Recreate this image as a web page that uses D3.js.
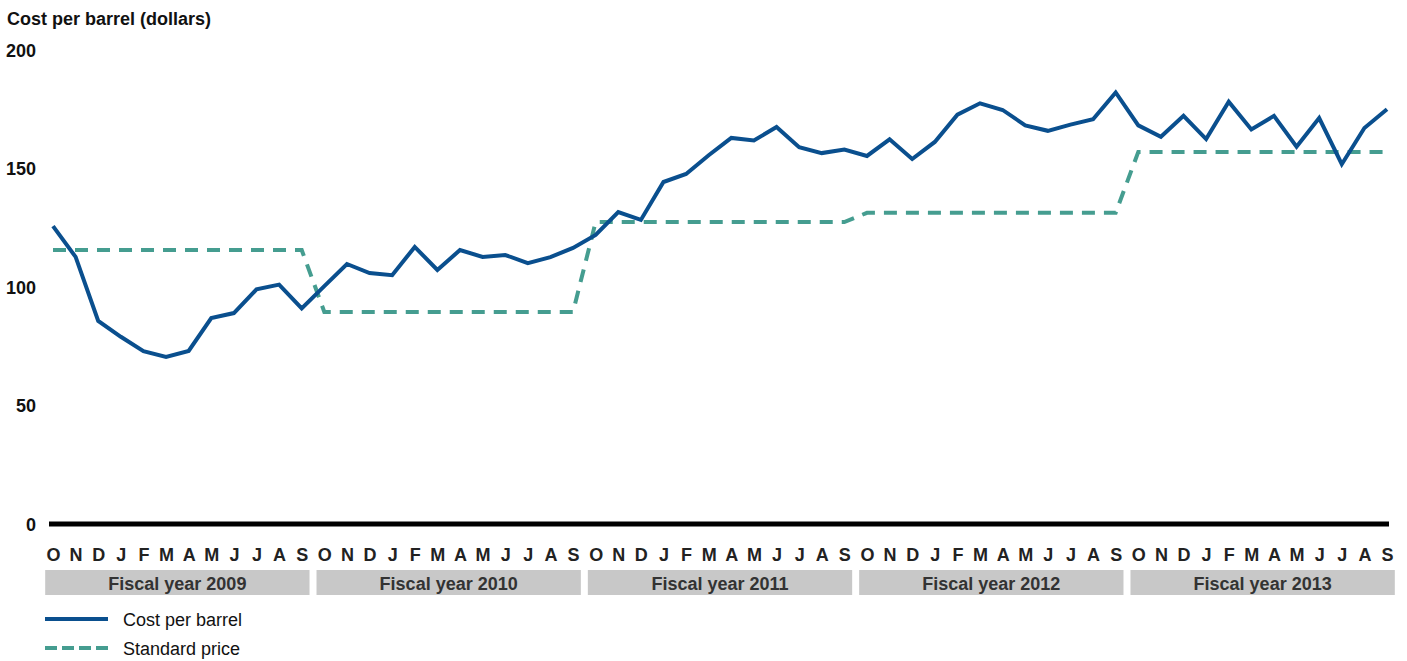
<!DOCTYPE html>
<html>
<head>
<meta charset="utf-8">
<script src="https://cdn.jsdelivr.net/npm/d3@7"></script>
<style>
	body { margin: 0; background: #fff; }
	text { font-family: "Liberation Sans", Arial, sans-serif; }
	.month text { font-family: "Liberation Sans Narrow", "Arial Narrow", "Liberation Sans", sans-serif; font-stretch: condensed; }
</style>
</head>
<body>
<div id="chart"></div>
<script>
// Month tick labels for one fiscal year (Oct - Sep)
var monthLetters = ["O","N","D","J","F","M","A","M","J","J","A","S"];
var fiscalYears = ["Fiscal year 2009", "Fiscal year 2010", "Fiscal year 2011", "Fiscal year 2012", "Fiscal year 2013"];
var yTicks = [0, 50, 100, 150, 200];

// Cost per barrel, Oct 2008 - Sep 2013
var costPerBarrel = [
	125.7, 112.7, 85.7, 79.0, 72.9, 70.5, 73.0, 86.9, 89.0, 99.0, 101.0, 91.0,
	100.4, 109.7, 105.9, 105.0, 116.9, 107.2, 115.6, 112.7, 113.5, 110.1, 112.6, 116.5,
	122.0, 131.6, 128.3, 144.3, 147.7, 155.6, 162.9, 161.8, 167.5, 159.0, 156.5, 158.0,
	155.3, 162.3, 154.0, 161.2, 172.7, 177.5, 174.7, 168.2, 165.9, 168.5, 170.8, 182.1,
	168.2, 163.4, 172.2, 162.4, 178.2, 166.5, 172.2, 159.2, 171.3, 151.8, 167.1, 175.0
];

// Standard price, Oct 2008 - Sep 2013
var standardPrice = [
	115.6, 115.6, 115.6, 115.6, 115.6, 115.6, 115.6, 115.6, 115.6, 115.6, 115.6, 115.6,
	89.5, 89.5, 89.5, 89.5, 89.5, 89.5, 89.5, 89.5, 89.5, 89.5, 89.5, 89.5,
	127.4, 127.4, 127.4, 127.4, 127.4, 127.4, 127.4, 127.4, 127.4, 127.4, 127.4, 127.4,
	131.3, 131.3, 131.3, 131.3, 131.3, 131.3, 131.3, 131.3, 131.3, 131.3, 131.3, 131.3,
	157.0, 157.0, 157.0, 157.0, 157.0, 157.0, 157.0, 157.0, 157.0, 157.0, 157.0, 157.0
];

var W = 1407, H = 661;
var blue = "#0a4f8e", teal = "#459d90";

var n = costPerBarrel.length;
var monthLabels = [];
fiscalYears.forEach(function() { monthLabels = monthLabels.concat(monthLetters); });

var xS = d3.scaleLinear().domain([0, n - 1]).range([53, 1387]);
var yS = d3.scaleLinear().domain([0, 200]).range([524, 50]);
var step = xS(1) - xS(0);

var svg = d3.select("#chart").append("svg")
	.attr("width", W)
	.attr("height", H);

//Title
svg.append("text")
	.attr("x", 7)
	.attr("y", 24.5)
	.style("font-size", "18px")
	.style("font-weight", "bold")
	.style("fill", "#111")
	.text("Cost per barrel (dollars)");

//Y axis labels only
var axisY = svg.append("g")
	.attr("class", "axisY")
	.attr("transform", "translate(36,0)")
	.call(d3.axisLeft(yS).tickValues(yTicks).tickSize(0).tickPadding(0));
axisY.select(".domain").remove();
axisY.selectAll("text")
	.attr("dy", "0.36em")
	.style("font-family", "'Liberation Sans', Arial, sans-serif")
	.style("font-size", "18px")
	.style("font-weight", "bold")
	.style("fill", "#111");

//Zero line
svg.append("line")
	.attr("x1", 49)
	.attr("x2", 1389)
	.attr("y1", yS(0))
	.attr("y2", yS(0))
	.attr("stroke", "#000")
	.attr("stroke-width", 5);

//Month letters
var axisX = svg.append("g")
	.attr("class", "month")
	.attr("transform", "translate(0,548)")
	.call(d3.axisBottom(xS)
		.tickValues(d3.range(n))
		.tickFormat(function(i) { return monthLabels[i]; })
		.tickSize(0)
		.tickPadding(0));
axisX.select(".domain").remove();
axisX.selectAll("text")
	.attr("dy", "0.71em")
	.style("font-size", "18px")
	.style("font-weight", "bold")
	.style("fill", "#222");

//Fiscal year bands
var years = svg.selectAll(".year")
	.data(fiscalYears)
	.enter().append("g")
	.attr("class", "year");

years.append("rect")
	.attr("x", function(d, i) { return xS(i * 12) - step / 2 + 3.5; })
	.attr("y", 570)
	.attr("width", function(d, i) { return xS(i * 12 + 11) - xS(i * 12) + step - 7; })
	.attr("height", 25)
	.attr("fill", "#c8c8c8");

years.append("text")
	.attr("x", function(d, i) { return (xS(i * 12) + xS(i * 12 + 11)) / 2; })
	.attr("y", 589.5)
	.style("text-anchor", "middle")
	.style("font-size", "18px")
	.style("font-weight", "bold")
	.style("fill", "#333")
	.text(function(d) { return d; });

//Lines
var line = d3.line()
	.x(function(d, i) { return xS(i); })
	.y(function(d) { return yS(d); });

svg.append("path")
	.datum(standardPrice)
	.attr("fill", "none")
	.attr("stroke", teal)
	.attr("stroke-width", 4)
	.attr("stroke-dasharray", "13,9")
	.attr("d", line);

svg.append("path")
	.datum(costPerBarrel)
	.attr("fill", "none")
	.attr("stroke", blue)
	.attr("stroke-width", 4)
	.attr("stroke-linejoin", "miter")
	.attr("d", line);

//Legend
var legendItems = [
	{label: "Cost per barrel", color: blue, dash: null},
	{label: "Standard price", color: teal, dash: "12,5"}
];

var legend = svg.selectAll(".legend")
	.data(legendItems)
	.enter().append("g")
	.attr("class", "legend")
	.attr("transform", function(d, i) { return "translate(45," + (619 + i * 29) + ")"; });

legend.append("line")
	.attr("x1", 0)
	.attr("x2", 63)
	.attr("stroke", function(d) { return d.color; })
	.attr("stroke-width", 4)
	.attr("stroke-dasharray", function(d) { return d.dash; });

legend.append("text")
	.attr("x", 78)
	.attr("y", 6.5)
	.style("font-size", "18px")
	.style("fill", "#111")
	.text(function(d) { return d.label; });
</script>
</body>
</html>
